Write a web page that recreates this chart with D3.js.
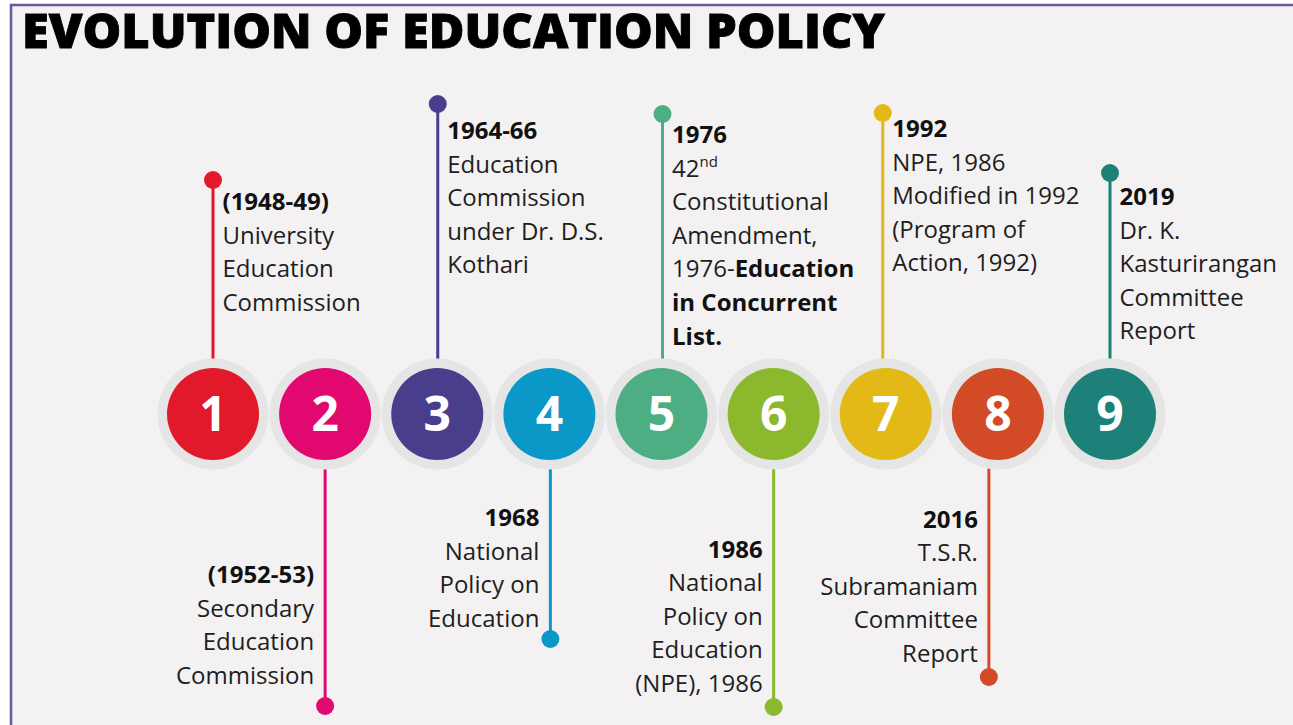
<!DOCTYPE html>
<html><head><meta charset="utf-8">
<script src="https://cdn.jsdelivr.net/npm/d3@7"></script>
<style>
html,body{margin:0;padding:0;background:#fff;}
svg{display:block;}
</style></head><body>
<script>
// ---- data ----
const steps = [1, 2, 3, 4, 5, 6, 7, 8, 9];
const years = ["(1948-49)", "(1952-53)", "1964-66", "1968", "1976", "1986", "1992", "2016", "2019"];
const descriptions = [
  ["University", "Education", "Commission"],
  ["Secondary", "Education", "Commission"],
  ["Education", "Commission", "under Dr. D.S.", "Kothari"],
  ["National", "Policy on", "Education"],
  ["42^nd", "Constitutional", "Amendment,", "1976-**Education**", "**in Concurrent**", "**List.**"],
  ["National", "Policy on", "Education", "(NPE), 1986"],
  ["NPE, 1986", "Modified in 1992", "(Program of", "Action, 1992)"],
  ["T.S.R.", "Subramaniam", "Committee", "Report"],
  ["Dr. K.", "Kasturirangan", "Committee", "Report"]
];
const colors = ["#e2192b", "#e1086f", "#483e8b", "#0a98c8", "#4dad83", "#8bb82d", "#e2b917", "#d34a26", "#1e8179"];
const stemLengths = [234, 292, 310, 225, 300, 293, 301, 263, 241];
const titleText = "EVOLUTION OF EDUCATION POLICY";

// ---- layout ----
const W = 1293, H = 725;
const cy = 414;
const pinOffset = [0, 0, 0.5, 1, 1, 0, -3, -9, 0];
const labelGap = [30, 22, 35, 12, 29, 15, 24, 15, 32];
const lineH = 33.6;
const font = "'Open Sans', 'Noto Sans', sans-serif";

const x = d3.scaleLinear().domain([1, 9]).range([213, 1110]);

const items = steps.map((s, i) => ({
  n: s, year: years[i], lines: descriptions[i], color: colors[i],
  up: i % 2 === 0, len: stemLengths[i], px: x(s) + pinOffset[i], gap: labelGap[i]
}));

const svg = d3.select("body").append("svg").attr("width", W).attr("height", H);

// background + border
svg.append("rect").attr("x", 0).attr("y", 0).attr("width", W).attr("height", H).attr("fill", "#ffffff");
svg.append("rect").attr("x", 11).attr("y", 5).attr("width", W).attr("height", H).attr("fill", "#f3f1f2");
svg.append("path").attr("d", `M11,${H} L11,5 L${W},5`).attr("fill", "none")
  .attr("stroke", "#6b5a96").attr("stroke-width", 2.6);

// title: cap height matched, then stretched horizontally to reference width
const titleG = svg.append("g");
const title = titleG.append("text").attr("x", 0).attr("y", 0)
  .attr("font-family", font).attr("font-weight", 800).attr("font-size", 48)
  .attr("fill", "#000").attr("stroke", "#000").attr("stroke-width", 0.9)
  .text(titleText);
const tl = title.node().getComputedTextLength();
titleG.attr("transform", `translate(22,48) scale(${863 / tl},1)`);

// stems
const g = svg.append("g");
g.selectAll("line.stem").data(items).join("line").attr("class", "stem")
  .attr("x1", d => d.px).attr("x2", d => d.px)
  .attr("y1", cy)
  .attr("y2", d => d.up ? cy - d.len : cy + d.len)
  .attr("stroke", d => d.color).attr("stroke-width", 3);
g.selectAll("circle.head").data(items).join("circle").attr("class", "head")
  .attr("cx", d => d.px).attr("cy", d => d.up ? cy - d.len : cy + d.len)
  .attr("r", 9).attr("fill", d => d.color);

// rings and discs
g.selectAll("circle.ring").data(items).join("circle").attr("class", "ring")
  .attr("cx", d => x(d.n)).attr("cy", cy).attr("r", 55.5).attr("fill", "#e5e5e5");
g.selectAll("circle.disc").data(items).join("circle").attr("class", "disc")
  .attr("cx", d => x(d.n)).attr("cy", cy).attr("r", 46).attr("fill", d => d.color);
g.selectAll("text.num").data(items).join("text").attr("class", "num")
  .attr("x", d => x(d.n)).attr("y", cy + 17)
  .attr("text-anchor", "middle").attr("font-family", font).attr("font-weight", 700)
  .attr("font-size", 48).attr("fill", "#fff").text(d => d.n);

// labels
function addSegments(textEl, str) {
  // supports **bold** and ^superscript
  const parts = str.split(/(\*\*[^*]+\*\*|\^\w+)/).filter(p => p.length);
  parts.forEach(p => {
    if (p.startsWith("**")) {
      textEl.append("tspan").attr("font-weight", 700).attr("fill", "#111").text(p.slice(2, -2));
    } else if (p.startsWith("^")) {
      textEl.append("tspan").attr("font-size", 15).attr("dy", -10).text(p.slice(1));
    } else {
      textEl.append("tspan").text(p);
    }
  });
}

items.forEach(d => {
  const all = [{ s: "**" + d.year + "**" }].concat(d.lines.map(s => ({ s })));
  const n = all.length;
  const headY = d.up ? cy - d.len : cy + d.len;
  const firstBase = d.up ? headY + d.gap : headY - d.gap - (n - 1) * lineH;
  const tx = d.up ? d.px + 9.5 : d.px - 11;
  all.forEach((l, k) => {
    const t = svg.append("text")
      .attr("x", tx).attr("y", firstBase + k * lineH)
      .attr("text-anchor", d.up ? "start" : "end")
      .attr("font-family", font).attr("font-size", 24).attr("fill", "#1e1e1e");
    addSegments(t, l.s);
  });
});
</script>
</body></html>
